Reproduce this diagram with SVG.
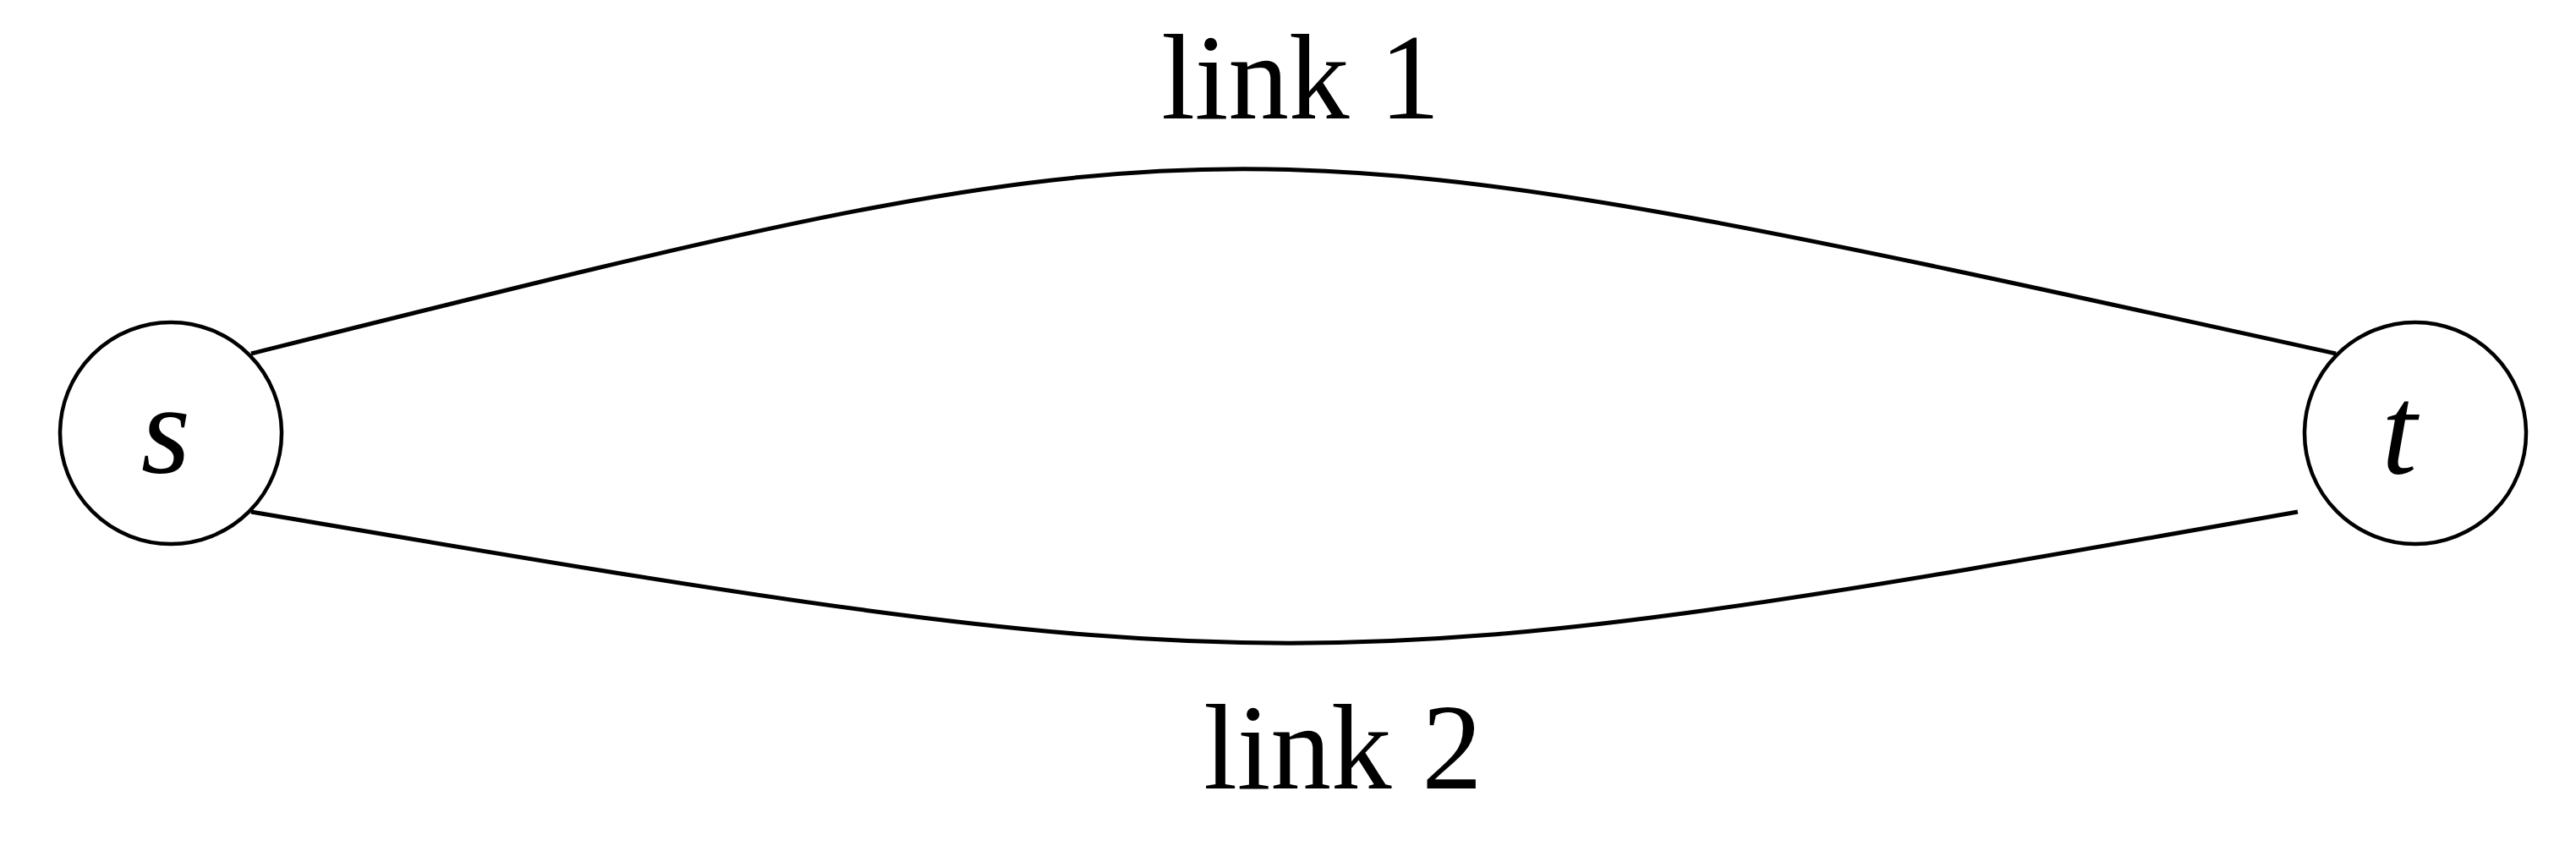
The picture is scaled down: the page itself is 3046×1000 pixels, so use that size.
<svg xmlns="http://www.w3.org/2000/svg" width="3046" height="1000" viewBox="0 0 3046 1000">
<style>
.node{fill:#fff;stroke:#000;stroke-width:4.5}
.edge{fill:none;stroke:#000;stroke-width:5}
.lbl{font-family:"Liberation Serif","DejaVu Serif",serif;font-size:143px;fill:#000}
.math{font-family:"Liberation Serif","DejaVu Serif",serif;font-size:150px;font-style:italic;fill:#000}
</style>
<rect width="3046" height="1000" fill="#fff"/>
<g id="connectors">
<path id="link1" class="edge" d="M297,418 C1461,127 1439,127 2762,418"/>
<path id="link2" class="edge" d="M297,605 C1515,812 1547,812 2717,605"/>
</g>
<g id="node-s">
<circle class="node" cx="202" cy="512" r="131"/>
<text class="math" x="196" y="559" text-anchor="middle">s</text>
</g>
<g id="node-t">
<circle class="node" cx="2856" cy="512" r="131"/>
<text class="math" x="2837" y="560" text-anchor="middle">t</text>
</g>
<g id="labels">
<text class="lbl" x="1538" y="140" text-anchor="middle">link 1</text>
<text class="lbl" x="1588" y="932" text-anchor="middle">link 2</text>
</g>
</svg>
